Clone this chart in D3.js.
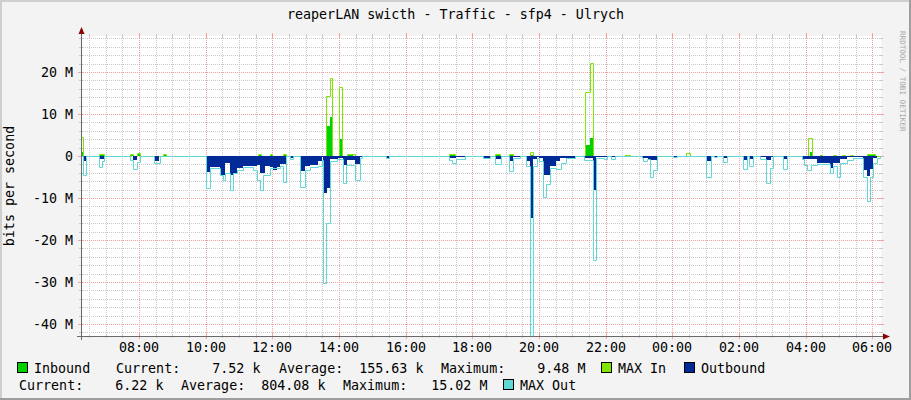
<!DOCTYPE html>
<html lang="en">
<head>
<meta charset="utf-8">
<title>reaperLAN swicth - Traffic - sfp4 - Ulrych</title>
<script src="https://d3js.org/d3.v7.min.js"></script>
<style>
  body { margin: 0; background: #fff; }
  svg text { font-family: 'DejaVu Sans Mono', monospace; white-space: pre; }
</style>
</head>
<body>
<div id="chart"></div>
<script>

/* Data */
/* ==== */

var chartTitle = 'reaperLAN swicth - Traffic - sfp4 - Ulrych';
var yTitle = 'bits per second';
var yTicks = [-40, -30, -20, -10, 0, 10, 20];   // Mbit/s
var seriesNames = ['Inbound', 'MAX In', 'Outbound', 'MAX Out'];
var inboundStats = [['7.52', 'k'], ['155.63', 'k'], ['9.48', 'M']];
var outboundStats = [['6.22', 'k'], ['804.08', 'k'], ['15.02', 'M']];

// step series: [clock time, Mbit/s] - value holds until the next entry
var inbound = [
  ['06:15',1.0],['06:19',0],['06:48',0.3],['06:57',0],
  ['07:44',0.3],['07:49',0],['07:56',0.4],['08:02',0],['08:43',0.2],['08:49',0],
  ['11:35',0.3],['11:40',0],['11:55',0.3],['12:00',0],['12:20',0.3],['12:25',0],
  ['13:38',7.1],['13:44',9.2],['13:49',0],['14:01',4.0],['14:06',0],['14:15',0.2],['14:25',0],
  ['17:18',0.2],['17:28',0],['18:41',0.2],['18:50',0],['19:06',0.2],['19:13',0],
  ['19:44',0.3],['19:49',0],['21:25',2.5],['21:32',4.4],['21:37',0],['22:35',0.2],['22:44',0],
  ['04:07',0.9],['04:12',0],['04:25',0.2],['04:30',0],['05:50',0.3],['06:05',0]
];

var maxIn = [
  ['06:15',4.5],['06:19',0],['06:48',0.4],['06:57',0],
  ['07:44',0.4],['07:49',0],['07:56',0.7],['08:02',0],['08:43',0.4],['08:49',0],
  ['11:35',0.4],['11:40',0],['11:55',0.4],['12:00',0],['12:20',0.4],['12:25',0],
  ['13:36',14.3],['13:44',18.5],['13:48',0],['14:00',16.5],['14:06',0],['14:15',0.4],['14:28',0],
  ['17:18',0.4],['17:28',0],['18:41',0.4],['18:50',0],['19:06',0.5],['19:13',0],
  ['19:43',1.0],['19:50',0],['21:23',15.2],['21:32',22.1],['21:37',0],['22:35',0.3],['22:44',0],
  ['00:25',0.7],['00:32',0],['04:05',4.4],['04:12',0],
  ['04:25',0.3],['04:30',0],['04:50',0.3],['04:55',0],['05:05',0.3],['05:10',0],['05:20',0.3],['05:25',0],
  ['05:50',0.5],['06:05',0]
];

// outbound is stored as a positive rate and drawn below zero
var outbound = [
  ['06:19',1.2],['06:25',0],['06:48',0.8],['06:57',0],['07:49',1.0],['07:56',0],['08:27',1.1],['08:36',0],
  ['10:01',3.7],['10:07',2.7],['10:26',4.5],['10:35',1.7],['10:44',4.5],['10:50',4.1],['10:56',2.9],
  ['11:08',2.5],['11:32',2.1],['11:38',4.1],['11:47',2.5],['11:56',2.7],['12:02',3.3],['12:08',2.7],
  ['12:14',1.9],['12:25',0],['12:32',0.4],['12:37',0],
  ['12:50',3.5],['12:59',2.5],['13:08',2.1],['13:23',1.3],['13:29',0.3],['13:31',8.9],['13:39',7.7],
  ['13:44',0.8],['13:58',0.5],['14:07',2.1],['14:14',1.0],['14:29',1.8],['14:37',0.3],['14:42',0],
  ['15:25',0.4],['15:30',0],
  ['17:18',0.55],['17:31',0.25],['17:47',0],['17:56',0.2],['18:01',0],['18:19',0.4],['18:32',0],
  ['18:41',0.7],['18:51',0],['19:06',1.2],['19:14',0.3],['19:26',0],
  ['19:37',1.3],['19:43',0.8],['19:44',14.8],['19:49',0.8],['19:56',0.3],['20:00',0.5],['20:07',4.5],
  ['20:20',2.5],['20:31',1.3],['20:38',0.5],['21:05',0],
  ['21:21',0.4],['21:37',8.1],['21:43',0.3],['22:04',0],['22:10',0.3],['22:17',0],
  ['23:05',0.5],['23:17',1.0],['23:33',0],['00:01',0.2],['00:08',0],
  ['01:01',1.1],['01:09',0],['01:15',0.2],['01:20',0],['01:31',0.4],['01:39',0],
  ['02:07',1.0],['02:15',0],['02:18',0.6],['02:26',0],['02:38',0.3],['02:49',1.0],['02:58',0.3],['03:02',0],
  ['03:19',0.8],['03:27',0],
  ['03:53',0.8],['04:02',0.7],['04:20',1.7],['04:44',2.9],['04:49',1.7],['05:02',0.8],['05:14',0.3],
  ['05:25',0.2],['05:43',3.3],['05:50',4.8],['05:55',3.0],['06:02',0.5],['06:08',0]
];

var maxOut = [
  ['06:19',4.5],['06:25',0],['06:48',2.7],['06:53',1.2],['06:57',0],
  ['07:44',1.0],['07:49',3.2],['07:56',1.5],['08:02',0],['08:27',1.7],['08:38',0],
  ['10:01',7.7],['10:07',2.9],['10:26',4.5],['10:31',5.7],['10:35',4.1],['10:44',8.1],['10:50',4.1],
  ['10:56',3.3],['11:08',2.7],['11:26',3.3],['11:32',5.7],['11:37',8.1],['11:44',4.5],['11:56',2.9],
  ['12:14',2.3],['12:20',6.1],['12:25',0],['12:32',0.8],['12:37',0],
  ['12:50',7.3],['12:59',3.3],['13:08',2.7],['13:23',2.5],['13:29',1.0],['13:31',30.2],['13:36',16.0],
  ['13:44',1.2],['13:56',0.6],['14:07',6.5],['14:12',2.1],['14:29',5.7],['14:37',0.5],['14:42',0],
  ['15:25',0.5],['15:30',0],
  ['17:18',0.95],['17:24',1.75],['17:31',0.6],['17:36',0.7],['17:47',0],['18:19',0.5],['18:32',0],
  ['18:41',2.0],['18:51',0],['19:06',3.6],['19:14',0.4],['19:26',0],
  ['19:37',2.5],['19:43',46],['19:50',2.5],['19:57',0.5],['20:00',1.3],['20:07',9.7],['20:13',6.7],
  ['20:20',2.9],['20:31',3.2],['20:40',1.7],['20:49',0.5],['21:05',0],
  ['21:21',1.0],['21:37',24.8],['21:43',0.5],['21:46',0.4],['21:57',0.8],['22:02',0],['22:10',0.8],['22:17',0],
  ['23:05',0.5],['23:07',1.2],['23:14',0.6],['23:19',5.1],['23:25',3.3],['23:33',0],['00:01',0.3],['00:08',0],
  ['01:01',5.1],['01:09',0],['01:15',0.3],['01:20',0],['01:31',1.35],['01:39',0],
  ['02:07',3.2],['02:15',0],['02:18',2.5],['02:26',0],['02:38',0.6],['02:49',6.5],['02:55',2.9],['03:02',0],
  ['03:19',3.2],['03:27',0],
  ['03:53',0.8],['03:57',2.1],['04:02',3.3],['04:09',2.1],['04:20',1.9],['04:44',4.0],['04:49',2.3],
  ['04:56',5.1],['05:02',1.7],['05:14',1.0],['05:25',0.4],['05:43',5.1],['05:50',10.7],['05:55',5.1],
  ['06:02',1.7],['06:08',0.5],['06:14',0]
];


/* Set up */
/* ====== */

var width = 911,
    height = 400,
    plot = { left: 81, right: 881, top: 36, bottom: 336 },
    fontSize = 13.33;

var colors = {
  back: '#f3f3f3',
  inbound: '#00cf00',
  maxIn: '#7ee600',
  outbound: '#002a97',
  maxOut: '#5fd9d6',
  grid: '#c9c9c9',
  mgrid: '#f2a0a0',
  axis: '#6a6a6a',
  arrow: '#8b0000'
};

var start = new Date(2024, 0, 1, 6, 15, 36),
    end = new Date(2024, 0, 2, 6, 15, 36);

// clock string -> date; anything before the start time belongs to the next day
function toDate(hhmm) {
  var p = hhmm.split(':').map(Number);
  var day = (p[0] * 60 + p[1]) < 375 ? 2 : 1;
  return new Date(2024, 0, day, p[0], p[1]);
}

function steps(rows, sign) {
  var pts = rows.map(function(r) { return { t: toDate(r[0]), v: sign * r[1] }; });
  pts.push({ t: end, v: pts[pts.length - 1].v });
  return pts;
}

var x = d3.scaleTime().domain([start, end]).range([plot.left, plot.right]);
var y = d3.scaleLinear().domain([-42.857, 28.571]).range([plot.bottom, plot.top]);

var svg = d3.select('#chart').append('svg')
    .attr('width', width)
    .attr('height', height);

// background and 3D frame
svg.append('rect').attr('width', width).attr('height', height).attr('fill', colors.back);
svg.append('path').attr('d', 'M0,0H911V2H2V400H0Z').attr('fill', '#cfcfcf');
svg.append('path').attr('d', 'M911,0V400H0V398H909V0Z').attr('fill', '#9e9e9e');

svg.append('rect')
    .attr('x', plot.left).attr('y', plot.top)
    .attr('width', plot.right - plot.left).attr('height', plot.bottom - plot.top)
    .attr('fill', '#fff');

svg.append('clipPath').attr('id', 'clip')
  .append('rect')
    .attr('x', plot.left).attr('y', plot.top)
    .attr('width', plot.right - plot.left).attr('height', plot.bottom - plot.top);


/* Grid */
/* ==== */

var grid = svg.append('g').attr('shape-rendering', 'crispEdges');

var minorY = d3.range(-42, 29, 2).filter(function(d) { return d % 10 !== 0; });
var minorX = d3.timeMinute.every(30).range(start, end).filter(function(d) {
  return !(d.getMinutes() === 0 && d.getHours() % 2 === 0);
});
var majorX = d3.timeHour.every(2).range(start, end);

function hLines(vals, color, tick) {
  vals.forEach(function(v) {
    var py = Math.round(y(v)) + 0.5;
    grid.append('line').attr('x1', plot.left).attr('x2', plot.right).attr('y1', py).attr('y2', py)
        .attr('stroke', color).attr('stroke-dasharray', '1,1');
    grid.append('line').attr('x1', plot.left - tick).attr('x2', plot.left + tick).attr('y1', py).attr('y2', py)
        .attr('stroke', color);
    grid.append('line').attr('x1', plot.right - tick).attr('x2', plot.right + tick).attr('y1', py).attr('y2', py)
        .attr('stroke', color);
  });
}

function vLines(vals, color, tick) {
  vals.forEach(function(t) {
    var px = Math.round(x(t)) + 0.5;
    grid.append('line').attr('x1', px).attr('x2', px).attr('y1', plot.top).attr('y2', plot.bottom)
        .attr('stroke', color).attr('stroke-dasharray', '1,1');
    grid.append('line').attr('x1', px).attr('x2', px).attr('y1', plot.top - tick).attr('y2', plot.top + tick)
        .attr('stroke', color);
    grid.append('line').attr('x1', px).attr('x2', px).attr('y1', plot.bottom - tick).attr('y2', plot.bottom + tick)
        .attr('stroke', color);
  });
}

hLines(minorY, colors.grid, 2);
vLines(minorX, colors.grid, 2);
hLines(yTicks, colors.mgrid, 3);
vLines(majorX, colors.mgrid, 3);


/* Series */
/* ====== */

var px = function(d) { return Math.round(x(d.t)); };

var area = d3.area()
    .curve(d3.curveStepAfter)
    .x(px)
    .y0(Math.round(y(0)))
    .y1(function(d) { return Math.round(y(d.v)); });

var line = d3.line()
    .curve(d3.curveStepAfter)
    .x(function(d) { return px(d) + 0.5; })
    .y(function(d) { return Math.round(y(d.v)) + 0.5; });

var marks = svg.append('g').attr('clip-path', 'url(#clip)');

marks.append('path').datum(steps(inbound, 1))
    .attr('d', area).attr('fill', colors.inbound).attr('shape-rendering', 'crispEdges');
marks.append('path').datum([{ t: start, v: 0 }].concat(steps(maxIn, 1)))
    .attr('d', line).attr('fill', 'none').attr('stroke', colors.maxIn).attr('stroke-width', 1);
marks.append('path').datum(steps(outbound, -1))
    .attr('d', area).attr('fill', colors.outbound).attr('shape-rendering', 'crispEdges');
marks.append('path').datum([{ t: start, v: 0 }].concat(steps(maxOut, -1)))
    .attr('d', line).attr('fill', 'none').attr('stroke', colors.maxOut).attr('stroke-width', 1);


/* Axes */
/* ==== */

var axes = svg.append('g').attr('shape-rendering', 'crispEdges');
axes.append('line').attr('x1', plot.left + 0.5).attr('x2', plot.left + 0.5)
    .attr('y1', plot.bottom + 4).attr('y2', plot.top - 4).attr('stroke', colors.axis);
axes.append('line').attr('x1', plot.left - 4).attr('x2', plot.right + 4)
    .attr('y1', plot.bottom + 0.5).attr('y2', plot.bottom + 0.5).attr('stroke', colors.axis);

svg.append('path')
    .attr('d', 'M' + (plot.left - 2.5) + ',' + (plot.top - 2) + 'L' + (plot.left + 0.5) + ',' + (plot.top - 9) +
               'L' + (plot.left + 3.5) + ',' + (plot.top - 2) + 'Z')
    .attr('fill', colors.arrow);
svg.append('path')
    .attr('d', 'M' + (plot.right + 2) + ',' + (plot.bottom - 2.5) + 'L' + (plot.right + 9) + ',' + (plot.bottom + 0.5) +
               'L' + (plot.right + 2) + ',' + (plot.bottom + 3.5) + 'Z')
    .attr('fill', colors.arrow);

var fmtTime = d3.timeFormat('%H:%M');

svg.append('g').selectAll('text').data(majorX).join('text')
    .attr('x', function(d) { return Math.round(x(d)); })
    .attr('y', 351.5)
    .attr('text-anchor', 'middle')
    .attr('font-size', fontSize)
    .text(fmtTime);

svg.append('g').selectAll('text').data(yTicks).join('text')
    .attr('x', 73)
    .attr('y', function(d) { return Math.round(y(d)) + 5; })
    .attr('text-anchor', 'end')
    .attr('font-size', fontSize)
    .text(function(d) { return d === 0 ? '0' : d + ' M'; });

svg.append('text')
    .attr('transform', 'translate(14,186) rotate(-90)')
    .attr('text-anchor', 'middle')
    .attr('font-size', fontSize)
    .text(yTitle);

svg.append('text')
    .attr('x', 455.5).attr('y', 18.5)
    .attr('text-anchor', 'middle')
    .attr('font-size', fontSize)
    .text(chartTitle);

svg.append('text')
    .attr('transform', 'translate(900,31) rotate(90)')
    .attr('font-size', 7.6)
    .attr('fill', '#a8a8a8')
    .text('RRDTOOL / TOBI OETIKER');


/* Legend */
/* ====== */

function stat(label, s) {
  return label + s[0].padStart(8) + ' ' + s[1];
}

var legendItems = [
  { x: 17, y: 373, swatch: colors.inbound, text: seriesNames[0] },
  { x: 116, y: 373, text: stat('Current:', inboundStats[0]) },
  { x: 279, y: 373, text: stat('Average:', inboundStats[1]) },
  { x: 441, y: 373, text: stat('Maximum:', inboundStats[2]) },
  { x: 601, y: 373, swatch: colors.maxIn, text: seriesNames[1] },
  { x: 684, y: 373, swatch: colors.outbound, text: seriesNames[2] },
  { x: 19, y: 390, text: stat('Current:', outboundStats[0]) },
  { x: 181, y: 390, text: stat('Average:', outboundStats[1]) },
  { x: 343, y: 390, text: stat('Maximum:', outboundStats[2]) },
  { x: 503, y: 390, swatch: colors.maxOut, text: seriesNames[3] }
];

var legend = svg.append('g');
legendItems.forEach(function(d) {
  var tx = d.x;
  if (d.swatch) {
    legend.append('rect')
        .attr('x', d.x + 0.5).attr('y', d.y - 10.5)
        .attr('width', 10).attr('height', 10)
        .attr('fill', d.swatch).attr('stroke', '#000').attr('stroke-width', 1)
        .attr('shape-rendering', 'crispEdges');
    tx = d.x + 17;
  }
  legend.append('text')
      .attr('x', tx).attr('y', d.y)
      .attr('font-size', fontSize)
      .text(d.text);
});

</script>
</body>
</html>
